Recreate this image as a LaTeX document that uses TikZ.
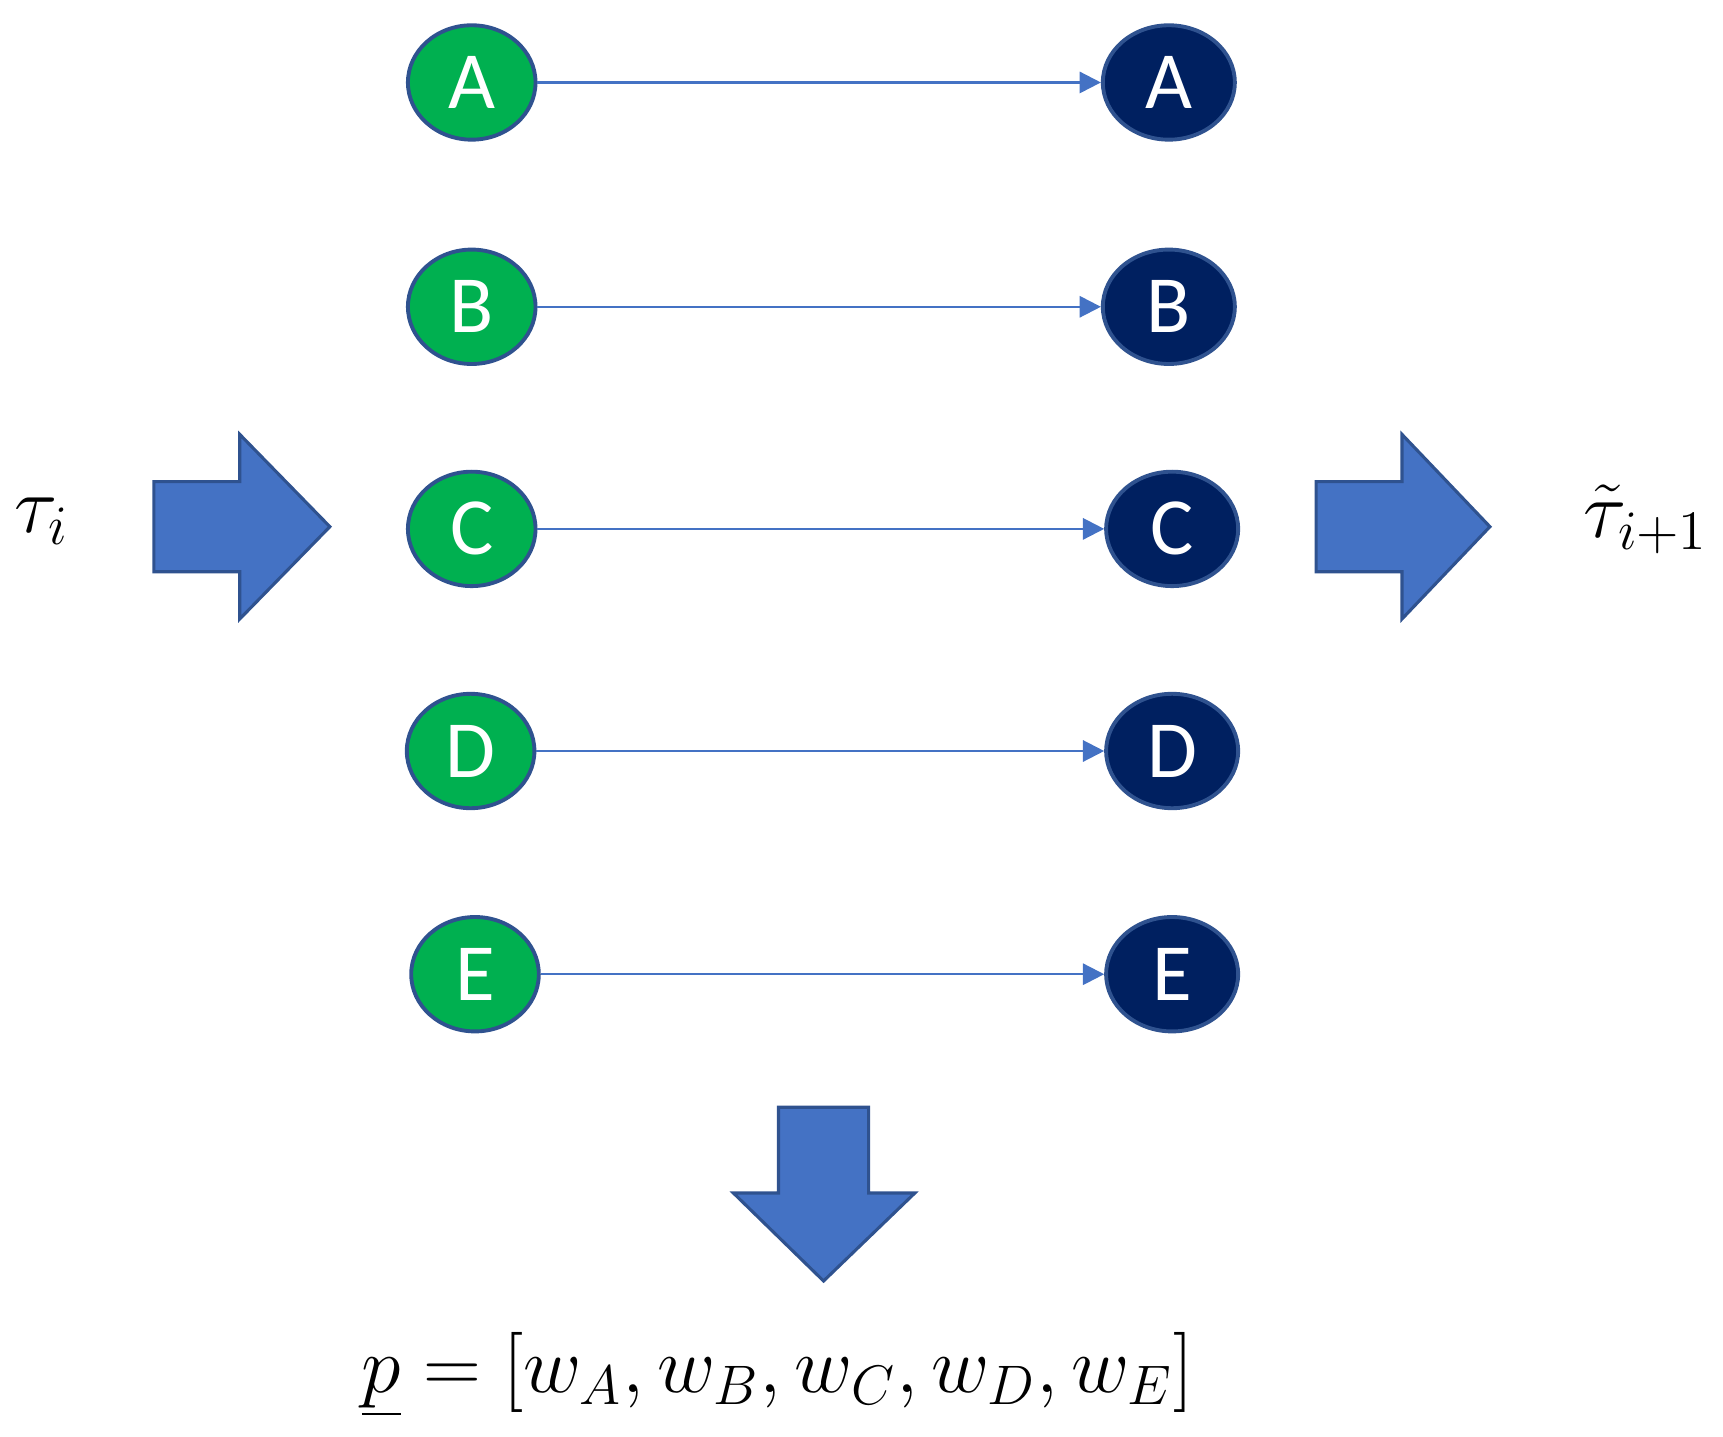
\documentclass[tikz,border=0pt]{standalone}
\usepackage{fontspec}
\newfontfamily\lblfont{Carlito}
\usetikzlibrary{arrows.meta, shapes.geometric}
\definecolor{gnode}{HTML}{00B050}
\definecolor{dnode}{HTML}{002060}
\definecolor{bfill}{HTML}{4472C4}
\definecolor{bline}{HTML}{2F528F}
\begin{document}
\begin{tikzpicture}[x=0.01cm, y=-0.01cm]
        \tikzstyle{src} = [ellipse, draw=bline, line width=1pt, fill=gnode, text=white, minimum width=1.16cm, minimum height=1.04cm, inner sep=0pt, font=\lblfont\fontsize{21}{24}\selectfont]
        \tikzstyle{dst} = [src, fill=dnode, minimum width=1.2cm]
        \tikzstyle{blk} = [draw=bfill, line width=0.6pt, -{Triangle[length=5.5pt, width=5.5pt]}]
        \tikzstyle{big} = [draw=bline, line width=0.8pt, fill=bfill]
        \useasboundingbox (0, 0) rectangle (1567, 1306);
        
        \node[src] (srcA) at (429, 75) {A};
        \node[src] (srcB) at (429, 279) {B};
        \node[src] (srcC) at (429, 481) {C};
        \node[src] (srcD) at (428, 683) {D};
        \node[src] (srcE) at (432, 886) {E};
        \node[dst] (dstA) at (1063, 75) {A};
        \node[dst] (dstB) at (1063, 279) {B};
        \node[dst] (dstC) at (1066, 481) {C};
        \node[dst] (dstD) at (1066, 683) {D};
        \node[dst] (dstE) at (1066, 886) {E};
        
        \path[blk] (srcA) to (dstA);
        \path[blk] (srcB) to (dstB);
        \path[blk] (srcC) to (dstC);
        \path[blk] (srcD) to (dstD);
        \path[blk] (srcE) to (dstE);
        
        % block arrows
        \draw[big] (140, 438) -- (218, 438) -- (218, 395) -- (300, 479) -- (218, 563) -- (218, 520) -- (140, 520) -- cycle;
        \draw[big] (1197, 438) -- (1275, 438) -- (1275, 395) -- (1355, 479) -- (1275, 563) -- (1275, 520) -- (1197, 520) -- cycle;
        \draw[big] (708, 1007) -- (790, 1007) -- (790, 1085) -- (832, 1085) -- (749, 1165) -- (667, 1085) -- (708, 1085) -- cycle;
        
        \node (tauin) at (38, 474) {\fontsize{22}{26}\selectfont$\tau_i$};
        \node (tauout) at (1497, 472) {\fontsize{22}{26}\selectfont$\tilde{\tau}_{i+1}$};
        \node (weights) at (707, 1250) {\fontsize{22}{26}\selectfont$\underline{p} = [w_A, w_B, w_C, w_D, w_E]$};
    \end{tikzpicture}
\end{document}
